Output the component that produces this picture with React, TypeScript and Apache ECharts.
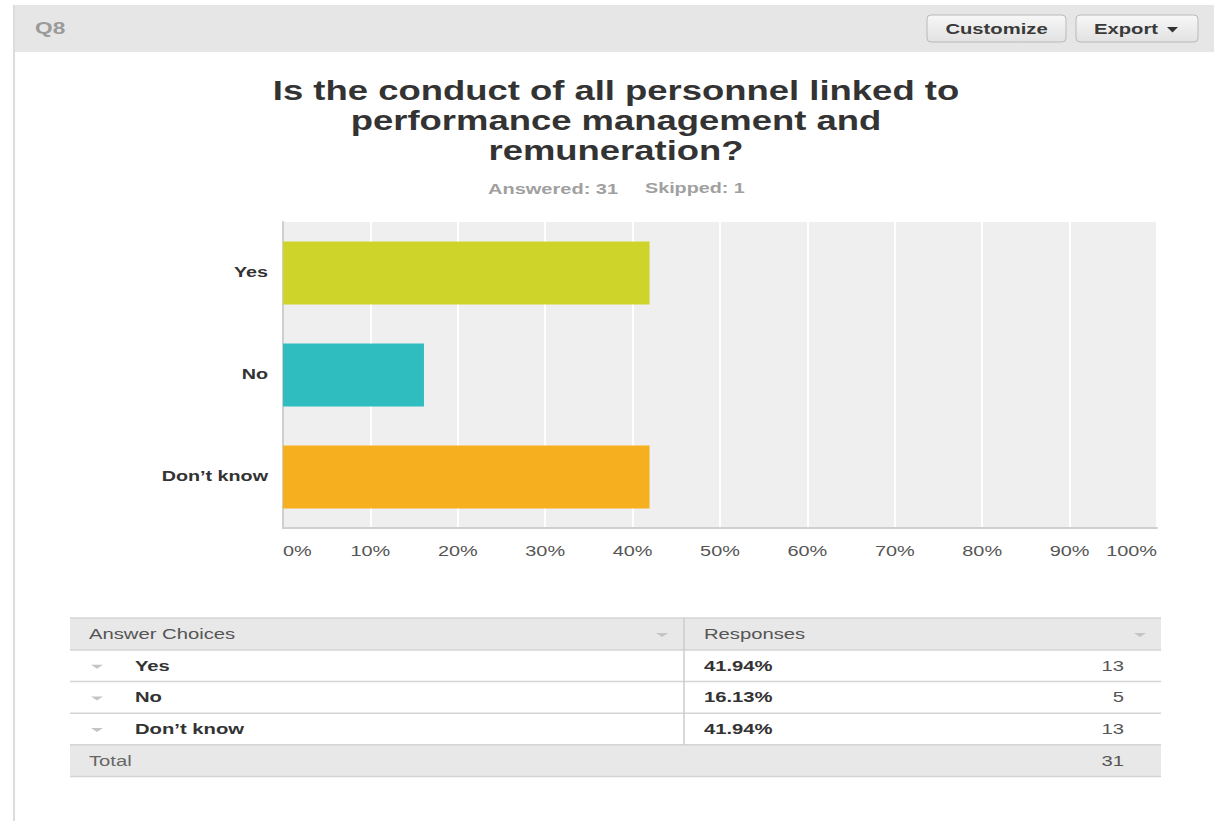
import React, { useEffect, useRef } from "react";
import * as echarts from "echarts";

const categories = ["Yes", "No", "Don’t know"];
const percentValues = [41.94, 16.13, 41.94];
const responseCounts = [13, 5, 13];
const barColors = ["#cfd42a", "#2fbdbf", "#f6b01f"];
const totalCount = 31;
const answered = 31;
const skipped = 1;
const titleLines = [
  "Is the conduct of all personnel linked to",
  "performance management and",
  "remuneration?",
];
const xTicks = [0, 10, 20, 30, 40, 50, 60, 70, 80, 90, 100];

const FONT = "'Liberation Sans', Arial, Helvetica, sans-serif";
const SX = 1.35;

export default function App() {
  const ref = useRef<HTMLDivElement>(null);
  useEffect(() => {
    if (!ref.current) return;
    const chart = echarts.init(ref.current, undefined, { renderer: "svg" });

    const W = 1221;
    const H = 821;
    const gridLeft = 283;
    const gridRight = 1157;
    const gridTop = 222;
    const gridBottom = 528;

    chart.setOption({
      animation: false,
      backgroundColor: "#ffffff",
      textStyle: { fontFamily: FONT },
      grid: {
        left: gridLeft,
        right: W - gridRight,
        top: gridTop,
        bottom: H - gridBottom,
        show: true,
        backgroundColor: "#efefef",
        borderWidth: 0,
      },
      xAxis: {
        type: "value",
        min: 0,
        max: 100,
        interval: 10,
        axisLine: { show: true, lineStyle: { color: "#cfcfcf", width: 2 } },
        axisTick: { show: false },
        splitLine: { show: true, lineStyle: { color: "#ffffff", width: 2 } },
        axisLabel: { show: false },
      },
      yAxis: {
        type: "category",
        inverse: true,
        data: categories,
        axisLine: { show: true, lineStyle: { color: "#cfcfcf", width: 2 } },
        axisTick: { show: false },
        axisLabel: { show: false },
      },
      series: [
        {
          type: "bar",
          barWidth: 63,
          data: percentValues.map((v, i) => ({
            value: v,
            itemStyle: { color: barColors[i] },
          })),
        },
      ],
    });

    const tableLeft = 70;
    const tableRight = 1161;
    const colSplit = 684;
    const headerTop = 618;
    const headerH = 32;
    const rowH = 31.6;
    const rowsTop = headerTop + headerH;
    const totalTop = rowsTop + rowH * categories.length;

    const graphics: any[] = [];
    const txt = (
      x: number,
      y: number,
      text: string,
      font: string,
      fill: string,
      align: string = "left",
      sx: number = SX
    ) => ({
      type: "text",
      x,
      y,
      scaleX: sx,
      style: { text, font, fill, textAlign: align, textVerticalAlign: "middle" },
    });

    // axis tick labels placed through the axis scales
    xTicks.forEach((v, i) => {
      const px = chart.convertToPixel({ xAxisIndex: 0 }, v) as number;
      const align = i === 0 ? "left" : i === xTicks.length - 1 ? "right" : "center";
      graphics.push(txt(px, gridBottom + 23, `${v}%`, `14px ${FONT}`, "#555", align, 1.42));
    });
    categories.forEach((c) => {
      const py = chart.convertToPixel({ yAxisIndex: 0 }, c) as number;
      graphics.push(txt(gridLeft - 15, py, c, `bold 14px ${FONT}`, "#333", "right", 1.41));
    });

    // outer panel
    graphics.push({
      type: "rect",
      shape: { x: 14, y: 5, width: 1200, height: 47 },
      style: { fill: "#e6e6e6" },
      silent: true,
    });
    graphics.push({
      type: "line",
      shape: { x1: 14, y1: 5, x2: 14, y2: 821 },
      style: { stroke: "#dcdcdc", lineWidth: 2 },
    });
    graphics.push(txt(35, 28, "Q8", `bold 16px ${FONT}`, "#9a9a9a", "left", 1.42));

    // buttons
    const btnFill = new echarts.graphic.LinearGradient(0, 0, 0, 1, [
      { offset: 0, color: "#f7f7f7" },
      { offset: 1, color: "#e2e2e2" },
    ]);
    graphics.push({
      type: "rect",
      shape: { x: 927, y: 15, width: 139, height: 27, r: 4 },
      style: { fill: btnFill, stroke: "#b9b9b9", lineWidth: 1 },
    });
    graphics.push(txt(996.5, 29, "Customize", `bold 15px ${FONT}`, "#3a3a3a", "center"));
    graphics.push({
      type: "rect",
      shape: { x: 1076, y: 15, width: 122, height: 27, r: 4 },
      style: { fill: btnFill, stroke: "#b9b9b9", lineWidth: 1 },
    });
    graphics.push(txt(1094, 29, "Export", `bold 15px ${FONT}`, "#3a3a3a", "left"));
    graphics.push({
      type: "polygon",
      shape: { points: [[1167, 27], [1178, 27], [1172.5, 32.5]] },
      style: { fill: "#333" },
    });

    // title
    titleLines.forEach((t, i) => {
      graphics.push(txt(616, 91 + i * 30, t, `bold 27px ${FONT}`, "#333333", "center"));
    });
    graphics.push(txt(488, 189, `Answered: ${answered}`, `bold 14px ${FONT}`, "#a0a0a0", "left", 1.43));
    graphics.push(txt(645, 189, `Skipped: ${skipped}`, `bold 14px ${FONT}`, "#a0a0a0", "left", 1.41));

    // table
    graphics.push({
      type: "rect",
      shape: { x: tableLeft, y: headerTop, width: tableRight - tableLeft, height: headerH },
      style: { fill: "#e8e8e8" },
    });
    graphics.push({
      type: "rect",
      shape: { x: tableLeft, y: totalTop, width: tableRight - tableLeft, height: rowH },
      style: { fill: "#e8e8e8" },
    });
    const hLines = [headerTop, rowsTop];
    for (let i = 1; i <= categories.length; i++) hLines.push(rowsTop + rowH * i);
    hLines.push(totalTop + rowH);
    hLines.forEach((y) => {
      graphics.push({
        type: "line",
        shape: { x1: tableLeft, y1: y, x2: tableRight, y2: y },
        style: { stroke: "#d4d4d4", lineWidth: 1.5 },
      });
    });
    graphics.push({
      type: "line",
      shape: { x1: colSplit, y1: headerTop, x2: colSplit, y2: totalTop },
      style: { stroke: "#cccccc", lineWidth: 1.5 },
    });
    const tri = (cx: number, cy: number, color: string) => ({
      type: "polygon",
      shape: { points: [[cx - 6, cy - 2], [cx + 6, cy - 2], [cx, cy + 2]] },
      style: { fill: color },
    });
    graphics.push(tri(662, headerTop + headerH / 2 + 1, "#c4c4c4"));
    graphics.push(tri(1140, headerTop + headerH / 2 + 1, "#c4c4c4"));
    graphics.push(txt(89, headerTop + headerH / 2, "Answer Choices", `15px ${FONT}`, "#555"));
    graphics.push(txt(704, headerTop + headerH / 2, "Responses", `15px ${FONT}`, "#555"));
    categories.forEach((c, i) => {
      const cy = rowsTop + rowH * i + rowH / 2;
      graphics.push(tri(97, cy + 1, "#c4c4c4"));
      graphics.push(txt(135, cy, c, `bold 15px ${FONT}`, "#333"));
      graphics.push(txt(704, cy, percentValues[i].toFixed(2) + "%", `bold 15px ${FONT}`, "#333"));
      graphics.push(txt(1124, cy, String(responseCounts[i]), `15px ${FONT}`, "#555", "right"));
    });
    graphics.push(txt(89, totalTop + rowH / 2, "Total", `15px ${FONT}`, "#666"));
    graphics.push(txt(1124, totalTop + rowH / 2, String(totalCount), `15px ${FONT}`, "#555", "right"));

    chart.setOption({ graphic: { elements: graphics } });
    return () => chart.dispose();
  }, []);

  return (
    <div
      ref={ref}
      style={{ position: "absolute", left: 0, top: 0, width: 1221, height: 821 }}
    />
  );
}
